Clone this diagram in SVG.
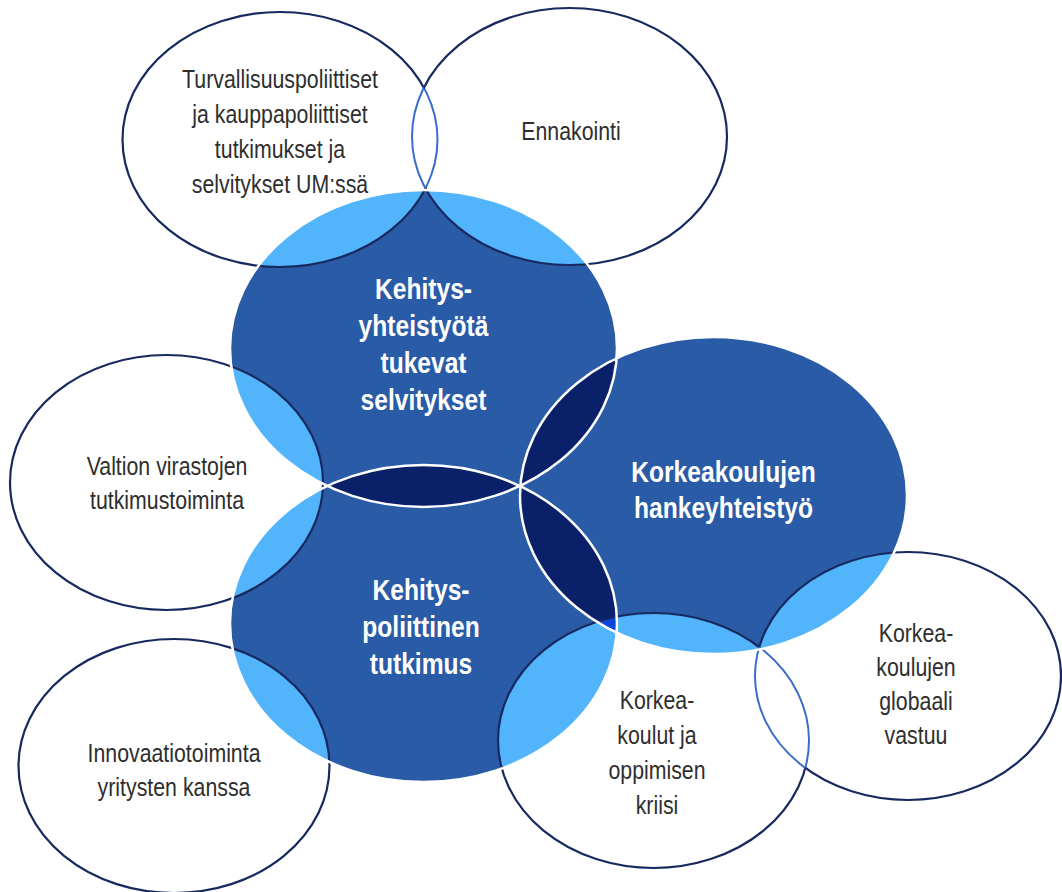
<svg xmlns="http://www.w3.org/2000/svg" width="1062" height="892" viewBox="0 0 1062 892">
<style>
.dk{fill:#2A5BA6}
.nv{fill:#0A2068}
.lb{fill:#52B5FB}
.tri{fill:#0B45D9}
.ws{fill:none;stroke:#FFFFFF;stroke-width:2.5}
.ns{fill:none;stroke:#17295F;stroke-width:2.2}
.ms{fill:none;stroke:#3A6CC8;stroke-width:2}
.lab{font-family:"Liberation Sans",Arial,sans-serif;font-size:26px;fill:#2E2E2E;text-anchor:middle}
.blab{font-family:"Liberation Sans",Arial,sans-serif;font-size:30px;font-weight:bold;fill:#FFFFFF;text-anchor:middle}
</style>
<defs>
<ellipse id="eA" cx="423.5" cy="348.5" rx="193.5" ry="158.5"/>
<ellipse id="eB" cx="423.5" cy="623.5" rx="193.5" ry="158.5"/>
<ellipse id="eC" cx="713.5" cy="495.5" rx="193.5" ry="158.5"/>
<ellipse id="eT" cx="280" cy="139.5" rx="157.5" ry="127.5"/>
<ellipse id="eE" cx="569.5" cy="136.5" rx="157.5" ry="128.5"/>
<ellipse id="eV" cx="166.5" cy="482.5" rx="156.5" ry="127.5"/>
<ellipse id="eI" cx="174" cy="766" rx="155.5" ry="127"/>
<ellipse id="eO" cx="653.5" cy="740.5" rx="155.5" ry="127.5"/>
<ellipse id="eG" cx="908" cy="676" rx="153" ry="124"/>
<clipPath id="cA"><use href="#eA"/></clipPath>
<clipPath id="cB"><use href="#eB"/></clipPath>
<clipPath id="cO"><use href="#eO"/></clipPath>
<clipPath id="cE"><use href="#eE"/></clipPath>
<clipPath id="cT"><use href="#eT"/></clipPath>
<clipPath id="cG"><use href="#eG"/></clipPath>
<clipPath id="cDark"><use href="#eA"/><use href="#eB"/><use href="#eC"/></clipPath>
<mask id="mNotE" maskUnits="userSpaceOnUse" x="0" y="0" width="1062" height="892"><rect width="1062" height="892" fill="#fff"/><use href="#eE" fill="#000"/></mask>
<mask id="mNotT" maskUnits="userSpaceOnUse" x="0" y="0" width="1062" height="892"><rect width="1062" height="892" fill="#fff"/><use href="#eT" fill="#000"/></mask>
<mask id="mNotG" maskUnits="userSpaceOnUse" x="0" y="0" width="1062" height="892"><rect width="1062" height="892" fill="#fff"/><use href="#eG" fill="#000"/></mask>
<mask id="mNotO" maskUnits="userSpaceOnUse" x="0" y="0" width="1062" height="892"><rect width="1062" height="892" fill="#fff"/><use href="#eO" fill="#000"/></mask>
</defs>
<rect width="1062" height="892" fill="#FFFFFF"/>

<g id="node-kehitysyhteistyo"><use href="#eA" class="dk"/></g>
<g id="node-kehityspoliittinen"><use href="#eB" class="dk"/></g>
<g id="node-korkeakoulujen-hankeyhteistyo"><use href="#eC" class="dk"/></g>

<g id="overlaps">
<g clip-path="url(#cA)"><use href="#eB" class="nv"/><use href="#eC" class="nv"/></g>
<g clip-path="url(#cB)"><use href="#eC" class="nv"/></g>
<g clip-path="url(#cDark)">
<use href="#eT" class="lb"/><use href="#eE" class="lb"/><use href="#eV" class="lb"/><use href="#eI" class="lb"/><use href="#eO" class="lb"/><use href="#eG" class="lb"/>
</g>
<g clip-path="url(#cB)"><use href="#eC" class="tri" clip-path="url(#cO)"/></g>
</g>

<g id="node-turvallisuus">
<use href="#eT" class="ns" mask="url(#mNotE)"/>
<use href="#eT" class="ms" clip-path="url(#cE)"/>
<g transform="translate(280 0) scale(0.82 1)"><text class="lab"><tspan x="0" y="88">Turvallisuuspoliittiset</tspan><tspan x="0" y="123">ja kauppapoliittiset</tspan><tspan x="0" y="158">tutkimukset ja</tspan><tspan x="0" y="193">selvitykset UM:ssä</tspan></text></g>
</g>
<g id="node-ennakointi">
<use href="#eE" class="ns" mask="url(#mNotT)"/>
<use href="#eE" class="ms" clip-path="url(#cT)"/>
<g transform="translate(571 0) scale(0.82 1)"><text class="lab" x="0" y="140">Ennakointi</text></g>
</g>
<g id="node-valtion">
<use href="#eV" class="ns"/>
<g transform="translate(167 0) scale(0.82 1)"><text class="lab"><tspan x="0" y="475">Valtion virastojen</tspan><tspan x="0" y="509">tutkimustoiminta</tspan></text></g>
</g>
<g id="node-innovaatio">
<use href="#eI" class="ns"/>
<g transform="translate(174 0) scale(0.82 1)"><text class="lab"><tspan x="0" y="762">Innovaatiotoiminta</tspan><tspan x="0" y="796">yritysten kanssa</tspan></text></g>
</g>
<g id="node-oppimisen-kriisi">
<use href="#eO" class="ns" mask="url(#mNotG)"/>
<use href="#eO" class="ms" clip-path="url(#cG)"/>
<g transform="translate(657 0) scale(0.82 1)"><text class="lab"><tspan x="0" y="709">Korkea-</tspan><tspan x="0" y="744">koulut ja</tspan><tspan x="0" y="779">oppimisen</tspan><tspan x="0" y="814">kriisi</tspan></text></g>
</g>
<g id="node-globaali-vastuu">
<use href="#eG" class="ns" mask="url(#mNotO)"/>
<use href="#eG" class="ms" clip-path="url(#cO)"/>
<g transform="translate(916 0) scale(0.82 1)"><text class="lab"><tspan x="0" y="642">Korkea-</tspan><tspan x="0" y="676">koulujen</tspan><tspan x="0" y="710">globaali</tspan><tspan x="0" y="744">vastuu</tspan></text></g>
</g>

<g id="dark-outlines">
<use href="#eA" class="ws"/><use href="#eB" class="ws"/><use href="#eC" class="ws"/>
</g>

<g id="dark-labels">
<g transform="translate(423.5 0) scale(0.82 1)"><text class="blab"><tspan x="0" y="299">Kehitys-</tspan><tspan x="0" y="336">yhteistyötä</tspan><tspan x="0" y="373">tukevat</tspan><tspan x="0" y="410">selvitykset</tspan></text></g>
<g transform="translate(421 0) scale(0.82 1)"><text class="blab"><tspan x="0" y="600">Kehitys-</tspan><tspan x="0" y="637">poliittinen</tspan><tspan x="0" y="674">tutkimus</tspan></text></g>
<g transform="translate(723.5 0) scale(0.82 1)"><text class="blab"><tspan x="0" y="482">Korkeakoulujen</tspan><tspan x="0" y="518">hankeyhteistyö</tspan></text></g>
</g>
<g id="connectors"/>
</svg>
